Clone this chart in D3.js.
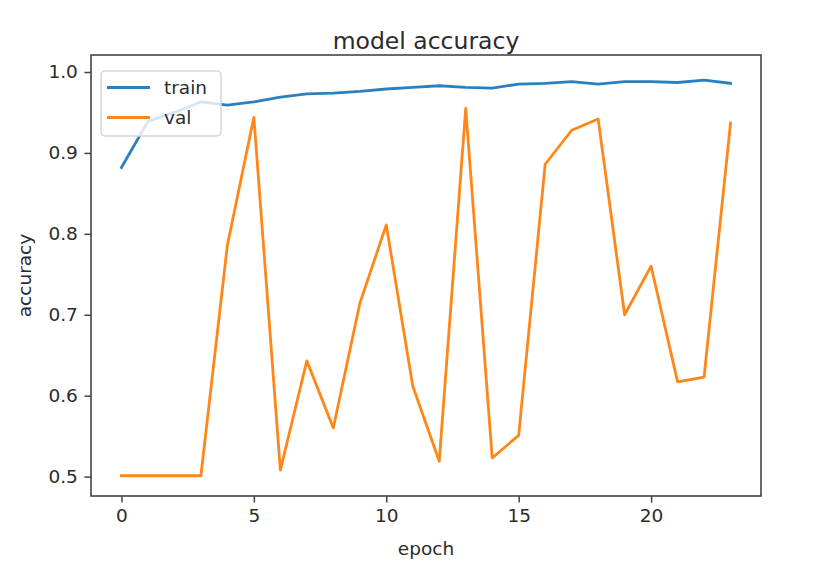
<!DOCTYPE html>
<html>
<head>
<meta charset="utf-8">
<script src="https://cdn.jsdelivr.net/npm/d3@7"></script>
<style>
  body { margin: 0; background: #fff; }
  text { font-family: "DejaVu Sans", sans-serif; fill: #2b2b2b; }
</style>
</head>
<body>
<div id="chart"></div>
<script>
var epochs = d3.range(24);
var train = [0.882, 0.939, 0.950, 0.963, 0.959, 0.963, 0.969, 0.973, 0.974, 0.976,
             0.979, 0.981, 0.983, 0.981, 0.980, 0.985, 0.986, 0.988, 0.985, 0.988,
             0.988, 0.987, 0.990, 0.986];
var val = [0.501, 0.501, 0.501, 0.501, 0.786, 0.944, 0.508, 0.643, 0.560, 0.714,
           0.811, 0.612, 0.519, 0.955, 0.523, 0.551, 0.886, 0.928, 0.942, 0.700,
           0.760, 0.617, 0.623, 0.937];
var xTicks = [0, 5, 10, 15, 20];
var yTicks = [0.5, 0.6, 0.7, 0.8, 0.9, 1.0];
var seriesNames = ["train", "val"];
var colors = ["#2a80bf", "#ff8719"];

var width = 814, height = 580;
// note: "top" is reserved on window, so prefix the plot edges
var plotLeft = 91, plotRight = 761, plotTop = 55, plotBottom = 496;

var svg = d3.select("#chart").append("svg")
    .attr("width", width)
    .attr("height", height);

var x = d3.scaleLinear().domain([-1.15, 24.15]).range([plotLeft, plotRight]);
var y = d3.scaleLinear().domain([0.476, 1.021]).range([plotBottom, plotTop]);

// axes
var xAxis = svg.append("g")
    .attr("transform", "translate(0," + plotBottom + ")")
    .call(d3.axisBottom(x).tickValues(xTicks).tickSize(6.6).tickPadding(6.6).tickFormat(d3.format("d")));
var yAxis = svg.append("g")
    .attr("transform", "translate(" + plotLeft + ",0)")
    .call(d3.axisLeft(y).tickValues(yTicks).tickSize(6.6).tickPadding(6.6).tickFormat(d3.format(".1f")));

[xAxis, yAxis].forEach(function (a) {
    a.select(".domain").remove();
    a.selectAll(".tick line").attr("stroke", "#444").attr("stroke-width", 1.5);
    a.selectAll(".tick text").style("font-size", "18.5px").style("font-family", "DejaVu Sans");
});

// lines
var line = d3.line()
    .x(function (d, i) { return x(epochs[i]); })
    .y(function (d) { return y(d); });

[train, val].forEach(function (s, k) {
    svg.append("path")
        .datum(s)
        .attr("fill", "none")
        .attr("stroke", colors[k])
        .attr("stroke-width", 2.8)
        .attr("stroke-linejoin", "round")
        .attr("stroke-linecap", "square")
        .attr("d", line);
});

// frame
svg.append("rect")
    .attr("x", plotLeft)
    .attr("y", plotTop)
    .attr("width", plotRight - plotLeft)
    .attr("height", plotBottom - plotTop)
    .attr("fill", "none")
    .attr("stroke", "#444")
    .attr("stroke-width", 1.6);

// title and labels
svg.append("text")
    .attr("x", (plotLeft + plotRight) / 2)
    .attr("y", 49)
    .attr("text-anchor", "middle")
    .style("font-size", "23.5px")
    .text("model accuracy");

svg.append("text")
    .attr("x", (plotLeft + plotRight) / 2)
    .attr("y", 555)
    .attr("text-anchor", "middle")
    .style("font-size", "18.5px")
    .text("epoch");

svg.append("text")
    .attr("transform", "translate(31," + (plotTop + plotBottom) / 2 + ") rotate(-90)")
    .attr("text-anchor", "middle")
    .style("font-size", "18.5px")
    .text("accuracy");

// legend
var legend = svg.append("g").attr("transform", "translate(101,71)");
legend.append("rect")
    .attr("width", 120)
    .attr("height", 65)
    .attr("rx", 4)
    .attr("fill", "#fff")
    .attr("fill-opacity", 0.8)
    .attr("stroke", "#d6d6d6")
    .attr("stroke-width", 1.5);

var item = legend.selectAll(".item")
    .data(seriesNames)
    .enter().append("g")
    .attr("class", "item")
    .attr("transform", function (d, i) { return "translate(0," + (16.5 + i * 30) + ")"; });

item.append("line")
    .attr("x1", 6).attr("x2", 49)
    .attr("stroke", function (d, i) { return colors[i]; })
    .attr("stroke-width", 2.8);

item.append("text")
    .attr("x", 63)
    .attr("dy", "0.35em")
    .style("font-size", "18.5px")
    .text(function (d) { return d; });
</script>
</body>
</html>
